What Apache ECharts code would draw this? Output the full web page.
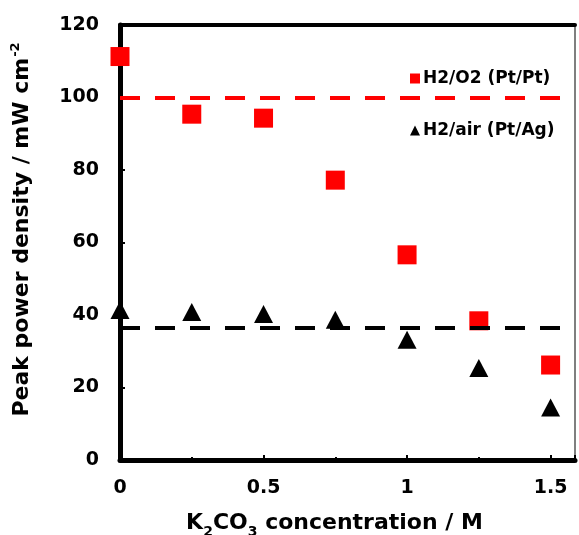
<!DOCTYPE html>
<html>
<head>
<meta charset="utf-8">
<script src="https://cdn.jsdelivr.net/npm/echarts@6/dist/echarts.min.js"></script>
<style>
  html, body { margin: 0; padding: 0; background: #fff; }
  #chart { width: 579px; height: 535px; }
</style>
</head>
<body>
<div id="chart"></div>
<script>
// K2CO3 concentration (M)
const concentration = [0, 0.25, 0.5, 0.75, 1, 1.25, 1.5];
// Peak power density (mW cm-2)
const h2o2PtPt = [111.3, 95.4, 94.3, 77.2, 56.6, 38.4, 26.2];
const h2airPtAg = [41.4, 40.8, 40.3, 38.7, 33.2, 25.4, 14.5];
// Reference levels drawn as dashed lines
const refO2 = 100;
const refAir = 36.4;
const yTicks = [0, 20, 40, 60, 80, 100, 120];
const xTicks = [0, 0.5, 1, 1.5];

const FONT = '"DejaVu Sans", sans-serif';

const pairs = (xs, ys) => xs.map((x, i) => [x, ys[i]]);

const chart = echarts.init(document.getElementById('chart'), null, { renderer: 'canvas' });

chart.setOption({
  animation: false,
  backgroundColor: '#fff',
  grid: { left: 120, right: 4, top: 25, bottom: 75, outerBoundsMode: 'none' },
  legend: {
    orient: 'vertical',
    left: 405,
    top: 65,
    itemWidth: 10,
    itemHeight: 10,
    itemGap: 35,
    textStyle: { fontFamily: FONT, fontWeight: 'bold', fontSize: 17, color: '#000', padding: [0, 0, 0, -2] },
    data: [
      { name: 'H2/O2 (Pt/Pt)', icon: 'rect' },
      { name: 'H2/air (Pt/Ag)', icon: 'triangle' }
    ]
  },
  xAxis: [
    {
      type: 'value',
      min: 0,
      max: 1.585,
      interval: 0.5,
      position: 'bottom',
      name: '{t|K}{s|2}{t|CO}{s|3}{t| concentration / M}',
      nameLocation: 'middle',
      nameGap: 48,
      nameMoveOverlap: false,
      nameTextStyle: {
        padding: [0, 26, 0, 0],
        rich: {
          t: { fontFamily: FONT, fontWeight: 'bold', fontSize: 22, color: '#000', lineHeight: 26, verticalAlign: 'bottom' },
          s: { fontFamily: FONT, fontWeight: 'bold', fontSize: 14, color: '#000', lineHeight: 26, verticalAlign: 'bottom', padding: [0, 0, -5, 0] }
        }
      },
      axisLine: { show: true, onZero: false, lineStyle: { color: '#000', width: 5 } },
      axisTick: { show: true, inside: true, length: 5, lineStyle: { color: '#000', width: 2 } },
      minorTick: { show: true, splitNumber: 2, length: 3, lineStyle: { color: '#000', width: 2 } },
      axisLabel: {
        margin: 19,
        showMaxLabel: false,
        fontFamily: FONT, fontWeight: 'bold', fontSize: 19, color: '#000',
        formatter: v => (xTicks.includes(Math.round(v * 100) / 100) ? String(v) : '')
      },
      splitLine: { show: false }
    },
    {
      type: 'value',
      min: 0,
      max: 1.585,
      position: 'top',
      axisLine: { show: true, onZero: false, lineStyle: { color: '#000', width: 4 } },
      axisTick: { show: false },
      axisLabel: { show: false },
      splitLine: { show: false }
    }
  ],
  yAxis: [
    {
      type: 'value',
      min: 0,
      max: 120,
      interval: 20,
      position: 'left',
      name: '{t|Peak power density / mW cm}{p|-2}',
      nameLocation: 'middle',
      nameRotate: 90,
      nameGap: 87,
      nameMoveOverlap: false,
      nameTextStyle: {
        padding: [0, 0, 0, 26],
        rich: {
          t: { fontFamily: FONT, fontWeight: 'bold', fontSize: 22, color: '#000', lineHeight: 26, verticalAlign: 'bottom' },
          p: { fontFamily: FONT, fontWeight: 'bold', fontSize: 13, color: '#000', lineHeight: 26, verticalAlign: 'top', padding: [2, 0, 0, 1] }
        }
      },
      axisLine: { show: true, onZero: false, lineStyle: { color: '#000', width: 5 } },
      axisTick: { show: true, inside: true, length: 5, lineStyle: { color: '#000', width: 2 } },
      minorTick: { show: true, splitNumber: 2, length: 3, lineStyle: { color: '#000', width: 2 } },
      axisLabel: {
        margin: 21,
        fontFamily: FONT, fontWeight: 'bold', fontSize: 19, color: '#000',
        formatter: v => (yTicks.includes(v) ? String(v) : '')
      },
      splitLine: { show: false }
    },
    {
      type: 'value',
      min: 0,
      max: 120,
      position: 'right',
      axisLine: { show: true, onZero: false, lineStyle: { color: '#555', width: 1.5 } },
      axisTick: { show: false },
      axisLabel: { show: false },
      splitLine: { show: false }
    }
  ],
  series: [
    {
      name: 'H2/O2 (Pt/Pt)',
      type: 'scatter',
      symbol: 'rect',
      symbolSize: 19,
      itemStyle: { color: '#ff0000', opacity: 1 },
      data: pairs(concentration, h2o2PtPt),
      z: 3,
      markLine: {
        silent: true,
        symbol: 'none',
        label: { show: false },
        lineStyle: { color: '#ff0000', width: 4, type: [20, 15], opacity: 1 },
        data: [{ yAxis: refO2 }],
        z: 4
      }
    },
    {
      name: 'H2/air (Pt/Ag)',
      type: 'scatter',
      symbol: 'triangle',
      symbolSize: [19, 18],
      itemStyle: { color: '#000', opacity: 1 },
      data: pairs(concentration, h2airPtAg),
      z: 3,
      markLine: {
        silent: true,
        symbol: 'none',
        label: { show: false },
        lineStyle: { color: '#000', width: 4, type: [20, 15], opacity: 1 },
        data: [{ yAxis: refAir }],
        z: 4
      }
    }
  ]
});
</script>
</body>
</html>
